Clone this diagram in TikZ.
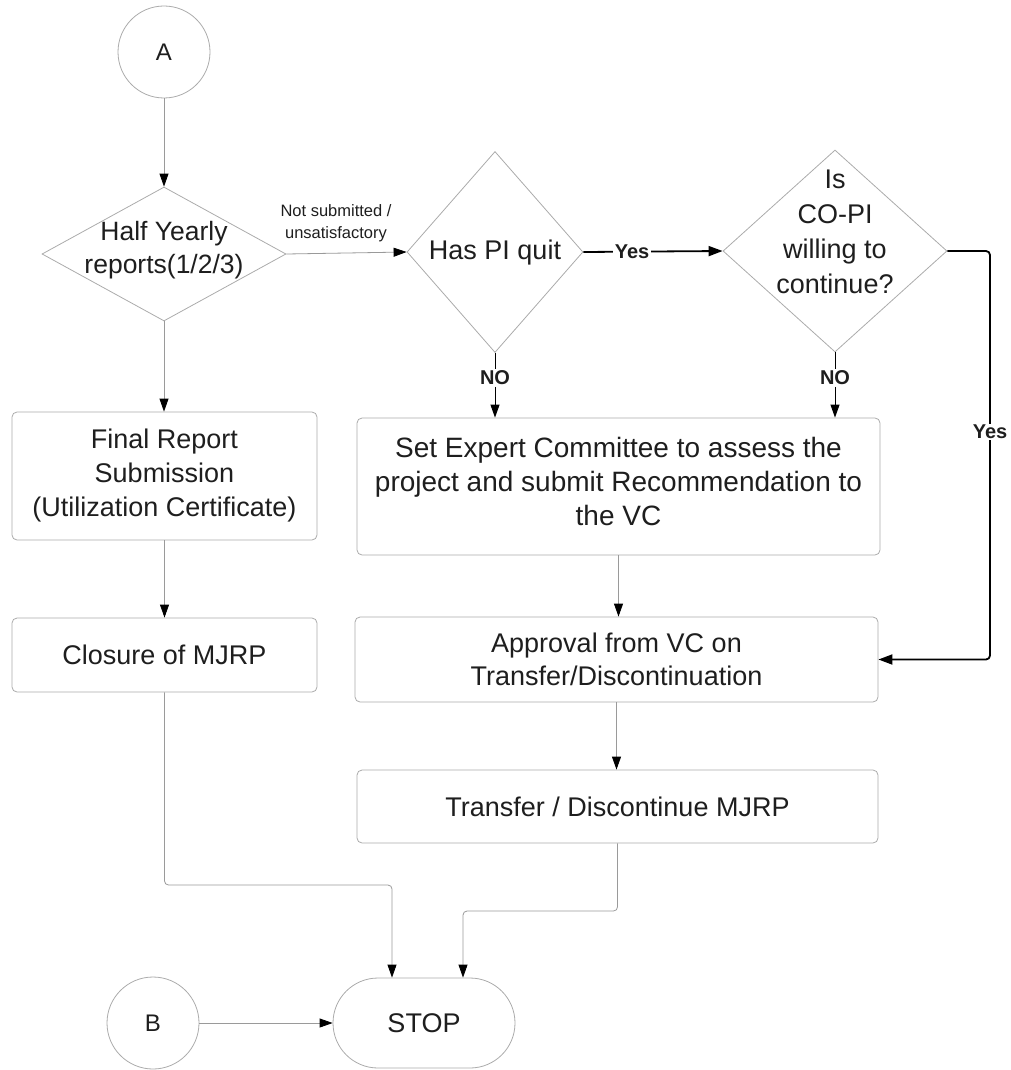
\documentclass[tikz,border=0pt]{standalone}
\usepackage{fontspec}
\setmainfont{Liberation Sans}
\usetikzlibrary{shapes.geometric,shapes.misc,arrows.meta}
\definecolor{bordergray}{HTML}{ABABAB}
\definecolor{linegray}{HTML}{9A9A9A}
\definecolor{txt}{HTML}{1E1E1E}
\newcommand{\dtxt}[2]{\smash{\makebox[0pt]{\raisebox{#1}{\begin{tabular}{@{}c@{}}#2\end{tabular}}}}}
\begin{document}
\begin{tikzpicture}[x=1pt,y=-1pt,
  every node/.style={text=txt},
  box/.style={draw=bordergray, line width=0.8pt, rounded corners=5pt, rectangle, align=center, inner sep=0pt, font=\fontsize{27}{34}\selectfont},
  dec/.style={draw=bordergray, line width=0.8pt, diamond, inner sep=0pt},
  conn/.style={draw=bordergray, line width=0.8pt, circle, inner sep=0pt, minimum size=92pt, font=\fontsize{24}{28}\selectfont},
  flow/.style={draw=linegray, line width=0.8pt, -{Triangle[length=13pt,width=9pt,color=black]}},
  blackflow/.style={draw=black, line width=1pt, -{Triangle[length=13pt,width=9pt]}},
  yesflow/.style={draw=black, line width=1.8pt, -{Triangle[length=14pt,width=10pt]}},
  lbl/.style={font=\bfseries\fontsize{20}{22}\selectfont, inner sep=1.5pt}
]
\useasboundingbox (0,0) rectangle (1011,1070);

% nodes
\node[conn] (A) at (164,52) {A};
\node[dec, minimum width=244pt, minimum height=134pt, font=\fontsize{26.5}{33}\selectfont] (hy) at (164,254)
  {\dtxt{-3pt}{Half Yearly\\reports(1/2/3)}};
\node[dec, minimum width=176pt, minimum height=201pt, font=\fontsize{27}{30}\selectfont] (pi) at (495,252)
  {\dtxt{-8pt}{Has PI quit}};
\node[dec, minimum width=224pt, minimum height=202pt, font=\fontsize{27}{35}\selectfont] (co) at (835,251)
  {\dtxt{11pt}{Is\\CO-PI\\willing to\\continue?}};

\node[font=\fontsize{16.5}{22}\selectfont, align=center, inner sep=0pt] (nsl) at (336,223) {Not submitted /\\unsatisfactory};
\node[lbl] (no1) at (pi.south |- 0,378) {NO};
\node[lbl] (no2) at (co.south |- 0,378) {NO};

\node[box, minimum width=305pt, minimum height=128pt] (final) at (164.5,476)
  {Final Report\\Submission\\(Utilization Certificate)};
\node[box, minimum width=305pt, minimum height=74pt] (closure) at (164.5,655) {Closure of MJRP};
\node[box, minimum width=523pt, minimum height=137pt, font=\fontsize{28}{34}\selectfont] (expert) at (618.5,486.5)
  {Set Expert Committee to assess the\\project and submit Recommendation to\\the VC\\[-24pt]};
\node[box, minimum width=523pt, minimum height=85pt, font=\fontsize{27}{33}\selectfont] (approval) at (616.5,659.5)
  {Approval from VC on\\Transfer/Discontinuation};
\node[box, minimum width=521pt, minimum height=73pt, font=\fontsize{27}{33}\selectfont] (transfer) at (617.5,806.5)
  {Transfer / Discontinue MJRP};

\node[draw=bordergray, line width=0.8pt, rounded rectangle, minimum width=182pt, minimum height=90pt, inner sep=0pt,
  font=\fontsize{27}{30}\selectfont] (stop) at (424,1023) {STOP};
\node[conn] (B) at (153,1023) {B};

\coordinate (rc) at (990,455);
\coordinate (c1) at ([xshift=-32pt]stop.north);
\coordinate (c2) at ([xshift=39pt]stop.north);

% connectors
\draw[flow] (A.south) -- (hy.north);
\draw[flow] (hy.east) -- (pi.west);
\draw[yesflow] (pi.east) -- node[lbl, fill=white, pos=0.35] (yes1) {Yes} (co.west);
\draw[black, line width=1pt] (pi.south) -- (no1.north);
\draw[black, line width=1pt] (co.south) -- (no2.north);
\draw[blackflow] (no1.south) -- (no1.south |- expert.north);
\draw[blackflow] (no2.south) -- (no2.south |- expert.north);
\draw[flow] (hy.south) -- (hy.south |- final.north);
\draw[flow] (final.south) -- (closure.north);
\draw[flow] (expert.south) -- (expert.south |- approval.north);
\draw[flow] (approval.south) -- (approval.south |- transfer.north);
\draw[yesflow, rounded corners=4pt] (co.east) -| (rc) |- (approval.east);
\node[lbl, fill=white] (yes2) at (990,432) {Yes};
\draw[flow, rounded corners=4pt] (closure.south) -- (closure.south |- 0,885) -- (c1 |- 0,885) -- (c1);
\draw[flow, rounded corners=4pt] (transfer.south) -- (transfer.south |- 0,911) -- (c2 |- 0,911) -- (c2);
\draw[flow] (B.east) -- (stop.west);
\end{tikzpicture}
\end{document}
